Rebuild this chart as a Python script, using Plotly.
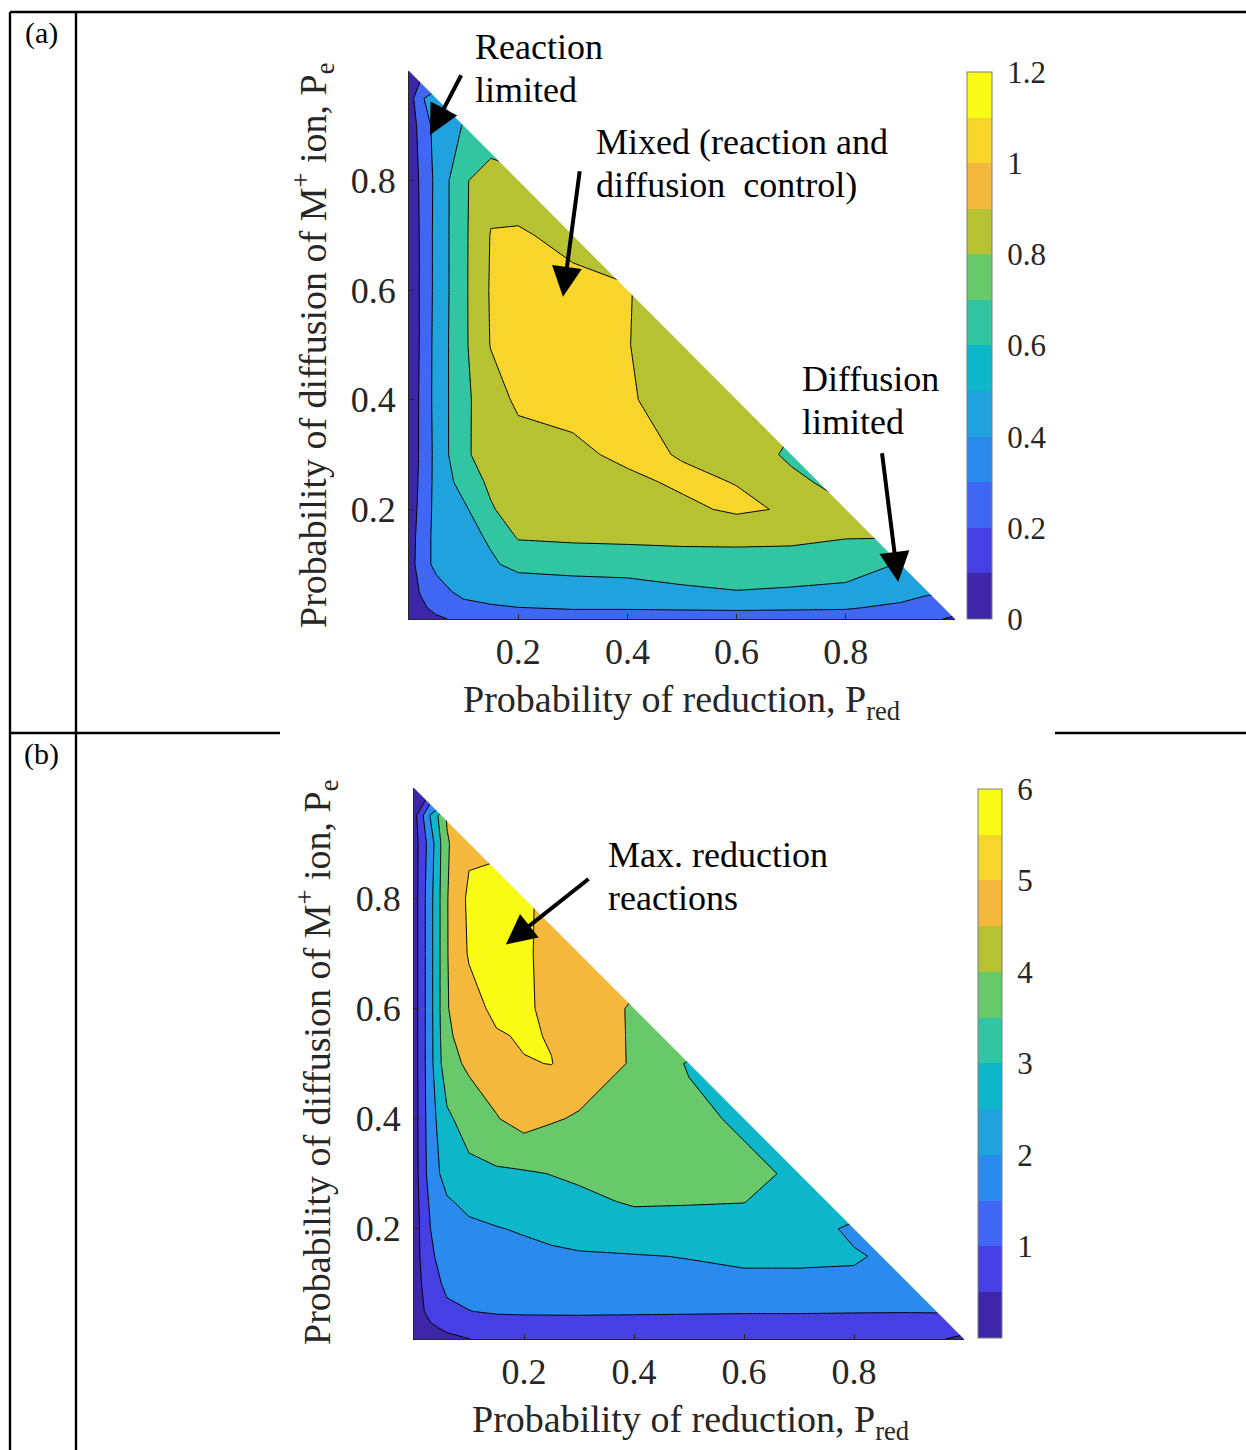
import plotly.graph_objects as go

W, H = 1246, 1450
FONT = "Liberation Serif"
INK = "#262626"

# 12-step parula-style palette
PARULA12 = ["#3E26A8", "#4640E4", "#4066F4", "#2A8AEE", "#1FA2DE", "#0DB6C8",
            "#31C5A2", "#68C96A", "#B6C232", "#F4B93C", "#F8D52A", "#F9FB15"]

# ---------------- panel (a): reduction rate ----------------
a_pred = [0, 0.02, 0.05, 0.1, 0.15, 0.2, 0.3, 0.4, 0.5, 0.6, 0.7, 0.8, 0.9, 0.95, 1.0]
a_pe = [0, 0.02, 0.05, 0.1, 0.15, 0.2, 0.25, 0.3, 0.4, 0.5, 0.6, 0.7, 0.8, 0.9, 0.95, 1.0]
# one row per P_e value; each row runs along P_red up to (or just past) the diagonal
a_rows = [
    [0.05, 0.10, 0.16, 0.26, 0.30, 0.32, 0.33, 0.33, 0.33, 0.33, 0.33, 0.33, 0.30, 0.26, 0.15],
    [0.06, 0.15, 0.26, 0.33, 0.37, 0.395, 0.41, 0.41, 0.415, 0.42, 0.415, 0.41, 0.37, 0.33],
    [0.07, 0.21, 0.32, 0.46, 0.50, 0.51, 0.52, 0.53, 0.57, 0.595, 0.58, 0.56, 0.46, 0.42],
    [0.08, 0.30, 0.45, 0.52, 0.58, 0.64, 0.66, 0.67, 0.69, 0.70, 0.70, 0.68, 0.59],
    [0.08, 0.28, 0.46, 0.55, 0.62, 0.82, 0.84, 0.85, 0.86, 0.86, 0.85, 0.81],
    [0.07, 0.25, 0.46, 0.56, 0.78, 0.90, 0.93, 0.94, 0.96, 1.03, 0.98, 0.82],
    [0.06, 0.23, 0.46, 0.68, 0.84, 0.90, 0.93, 0.96, 1.03, 0.995, 0.84, 0.74],
    [0.06, 0.22, 0.46, 0.77, 0.88, 0.90, 0.96, 1.04, 0.99, 0.90, 0.77],
    [0.05, 0.22, 0.47, 0.76, 0.90, 1.04, 1.06, 1.02, 0.92, 0.85],
    [0.05, 0.21, 0.47, 0.76, 1.01, 1.08, 1.08, 1.005, 0.92],
    [0.05, 0.21, 0.46, 0.76, 1.02, 1.08, 1.07, 1.01, 0.90],
    [0.05, 0.21, 0.46, 0.76, 1.01, 1.03, 0.93],
    [0.05, 0.22, 0.45, 0.77, 0.93, 0.86],
    [0.06, 0.26, 0.47, 0.61],
    [0.08, 0.36, 0.52],
    [0.10],
]
a_levels = dict(start=0.2, end=1.0, size=0.2)
a_cbar_vals = [0, 0.2, 0.4, 0.6, 0.8, 1.0, 1.2]
a_cbar_text = ["0", "0.2", "0.4", "0.6", "0.8", "1", "1.2"]

# ---------------- panel (b): reduction reactions ----------------
b_pred = [0, 0.03, 0.06, 0.1, 0.15, 0.2, 0.25, 0.3, 0.4, 0.5, 0.6, 0.7, 0.8, 0.9, 0.95, 1.0]
b_pe = [0, 0.02, 0.05, 0.1, 0.15, 0.2, 0.25, 0.3, 0.4, 0.5, 0.55, 0.6, 0.7, 0.8, 0.9, 0.95, 1.0]
b_rows = [
    [0.0, 0.15, 0.30, 0.49, 0.70, 0.80, 0.85, 0.85, 0.85, 0.85, 0.85, 0.85, 0.85, 0.80, 0.60, 0.30],
    [0.0, 0.35, 0.65, 0.90, 1.00, 1.05, 1.08, 1.10, 1.10, 1.10, 1.10, 1.10, 1.10, 1.10, 1.00, 0.80],
    [0.0, 0.80, 1.30, 1.48, 1.60, 1.62, 1.62, 1.62, 1.60, 1.58, 1.56, 1.56, 1.54, 1.53, 1.55, 1.40],
    [0.0, 1.10, 1.70, 1.85, 1.95, 2.00, 2.05, 2.10, 2.20, 2.25, 2.30, 2.30, 2.30, 2.10],
    [0.0, 1.40, 1.80, 2.00, 2.10, 2.20, 2.30, 2.40, 2.45, 2.53, 2.65, 2.65, 2.60, 2.20],
    [0.0, 1.50, 2.00, 2.30, 2.45, 2.60, 2.80, 2.90, 3.10, 3.20, 3.20, 3.00, 2.30],
    [0.0, 1.70, 2.40, 2.75, 3.00, 3.10, 3.20, 3.30, 3.60, 3.55, 3.52, 3.10],
    [0.0, 2.00, 2.90, 3.20, 3.35, 3.40, 3.52, 3.65, 3.90, 3.95, 3.80, 3.30],
    [0.0, 2.10, 3.30, 4.00, 4.45, 4.90, 4.60, 4.40, 4.20, 3.80, 3.30],
    [0.0, 2.20, 4.20, 4.65, 5.00, 5.45, 5.52, 5.10, 4.40, 3.40],
    [0.0, 2.20, 4.35, 4.90, 5.40, 5.60, 5.45, 5.05, 4.40],
    [0.0, 2.20, 4.45, 5.10, 5.75, 5.70, 5.20, 5.00, 4.40],
    [0.0, 2.20, 4.45, 5.60, 5.90, 5.70, 5.10, 4.90],
    [0.0, 2.20, 4.45, 5.70, 5.90, 5.80, 5.00],
    [0.0, 2.00, 4.40, 5.30],
    [0.1, 2.60, 4.60],
    [0.2],
]
b_levels = dict(start=0.5, end=5.5, size=1.0)
b_cbar_vals = [1, 2, 3, 4, 5, 6]
b_cbar_text = ["1", "2", "3", "4", "5", "6"]

x_ticks = [0.2, 0.4, 0.6, 0.8]
x_tick_text = ["0.2", "0.4", "0.6", "0.8"]

XTITLE = "Probability of reduction, P<sub>red</sub>"
YTITLE = "Probability of diffusion of M<sup>+</sup> ion, P<sub>e</sub>"


def full_grid(rows, ncols):
    # values past the diagonal repeat the row's last entry; they sit under the mask
    return [list(r) + [r[-1]] * (ncols - len(r)) for r in rows]


def fx(px):
    return px / W


def fy(py):
    return 1 - py / H


def band_scale(colors):
    n = len(colors)
    return [[i / (n - 1), c] for i, c in enumerate(colors)]


def discrete_scale(colors):
    n = len(colors)
    out = []
    for i, c in enumerate(colors):
        out.append([i / n, c])
        out.append([(i + 1) / n, c])
    return out


fig = go.Figure()

panels = [
    dict(px=a_pred, pe=a_pe, rows=a_rows, levels=a_levels,
         fills=[PARULA12[i] for i in (0, 2, 4, 6, 8, 10)],
         cmax=1.2, cvals=a_cbar_vals, ctext=a_cbar_text,
         xa="x", ya="y", cb_left=967, cb_w=25, cb_top=72, cb_bot=619),
    dict(px=b_pred, pe=b_pe, rows=b_rows, levels=b_levels,
         fills=[PARULA12[i] for i in (0, 1, 3, 5, 7, 9, 11)],
         cmax=6, cvals=b_cbar_vals, ctext=b_cbar_text,
         xa="x2", ya="y2", cb_left=978, cb_w=24, cb_top=789, cb_bot=1338),
]

for p in panels:
    fig.add_trace(go.Contour(
        x=p["px"], y=p["pe"], z=full_grid(p["rows"], len(p["px"])),
        autocontour=False,
        contours=dict(coloring="fill", showlines=True, **p["levels"]),
        colorscale=band_scale(p["fills"]),
        line=dict(color="black", width=1, smoothing=0),
        showscale=False, hoverinfo="skip",
        xaxis=p["xa"], yaxis=p["ya"],
    ))
    # colour key with the full 12-step palette
    fig.add_trace(go.Scatter(
        x=[0.97, 0.98], y=[0.97, 0.98], mode="markers",
        marker=dict(size=1, color=[0, p["cmax"]], cmin=0, cmax=p["cmax"],
                    colorscale=discrete_scale(PARULA12), showscale=True,
                    colorbar=dict(
                        x=fx(p["cb_left"]), xanchor="left",
                        y=fy(p["cb_bot"]), yanchor="bottom",
                        len=(p["cb_bot"] - p["cb_top"]) / H, lenmode="fraction",
                        thickness=p["cb_w"], thicknessmode="pixels",
                        xpad=0, ypad=0, outlinewidth=1, outlinecolor="#7f7f7f",
                        tickmode="array", tickvals=p["cvals"], ticktext=p["ctext"],
                        ticks="outside", ticklen=9, tickcolor="rgba(0,0,0,0)",
                        tickfont=dict(family=FONT, size=31, color=INK),
                    )),
        hoverinfo="skip", showlegend=False,
        xaxis=p["xa"], yaxis=p["ya"],
    ))

axis_common = dict(range=[0, 1], showgrid=False, zeroline=False, showline=True,
                   linecolor=INK, linewidth=1, ticks="inside", ticklen=5,
                   tickcolor=INK, tickmode="array", tickvals=x_ticks,
                   ticktext=x_tick_text, tickfont=dict(family=FONT, size=36, color=INK))

fig.update_layout(
    width=W, height=H, margin=dict(l=0, r=0, t=0, b=0),
    paper_bgcolor="white", plot_bgcolor="white", showlegend=False,
    xaxis=dict(axis_common, domain=[fx(409), fx(955)], anchor="y", ticklabelstandoff=1),
    yaxis=dict(axis_common, domain=[fy(619), fy(71)], anchor="x", ticklabelstandoff=5),
    xaxis2=dict(axis_common, domain=[fx(414), fx(964)], anchor="y2", ticklabelstandoff=1),
    yaxis2=dict(axis_common, domain=[fy(1339), fy(788)], anchor="x2", ticklabelstandoff=5),
)

shapes = []
# mask the region beyond P_red + P_e = 1
for xa, ya in (("x", "y"), ("x2", "y2")):
    shapes.append(dict(type="path", xref=xa, yref=ya, path="M 0,1 L 1,0 L 1,1 Z",
                       fillcolor="white", line=dict(width=0), layer="above"))
# table rules
rule = dict(color="black", width=2.4)
for x0, y0, x1, y1 in [(10, 12, 1246, 12), (10, 12, 10, 1450), (76, 12, 76, 1450),
                       (10, 733, 280, 733), (1055, 733, 1246, 733)]:
    shapes.append(dict(type="line", xref="paper", yref="paper",
                       x0=fx(x0), y0=fy(y0), x1=fx(x1), y1=fy(y1), line=rule))
fig.update_layout(shapes=shapes)

ann = []


def text(t, px, py, size=36, xanchor="left", angle=0, color="black"):
    ann.append(dict(text=t, x=fx(px), y=fy(py), xref="paper", yref="paper",
                    xanchor=xanchor, yanchor="middle", showarrow=False,
                    textangle=angle, align="left",
                    font=dict(family=FONT, size=size, color=color)))


def arrow(xa, ya, tail, tip):
    ann.append(dict(text="", xref=xa, yref=ya, axref=xa, ayref=ya,
                    x=tip[0], y=tip[1], ax=tail[0], ay=tail[1], showarrow=True,
                    arrowhead=2, arrowsize=1.5, arrowwidth=4, arrowcolor="black",
                    standoff=0, startstandoff=0))


text("(a)", 41, 33, size=30, xanchor="center")
text("(b)", 41, 754, size=30, xanchor="center")

text(XTITLE, 681, 702, size=38, xanchor="center", color=INK)
text(YTITLE, 313, 345, size=38, xanchor="center", angle=-90, color=INK)
text(XTITLE, 690, 1422, size=38, xanchor="center", color=INK)
text(YTITLE, 317, 1062, size=38, xanchor="center", angle=-90, color=INK)

# callout labels, one line each
text("Reaction", 473, 47)
text("limited", 473, 90)
text("Mixed (reaction and", 594, 142)
text("diffusion\u00a0 control)", 594, 185)
text("Diffusion", 800, 379)
text("limited", 800, 422)
text("Max. reduction", 606, 855)
text("reactions", 606, 898)

arrow("x", "y", (0.097, 0.995), (0.0385, 0.883))
arrow("x", "y", (0.313, 0.82), (0.282, 0.588))
arrow("x", "y", (0.866, 0.305), (0.896, 0.0675))
arrow("x2", "y2", (0.32, 0.837), (0.167, 0.716))

fig.update_layout(annotations=ann)

fig.write_html("out.html")
